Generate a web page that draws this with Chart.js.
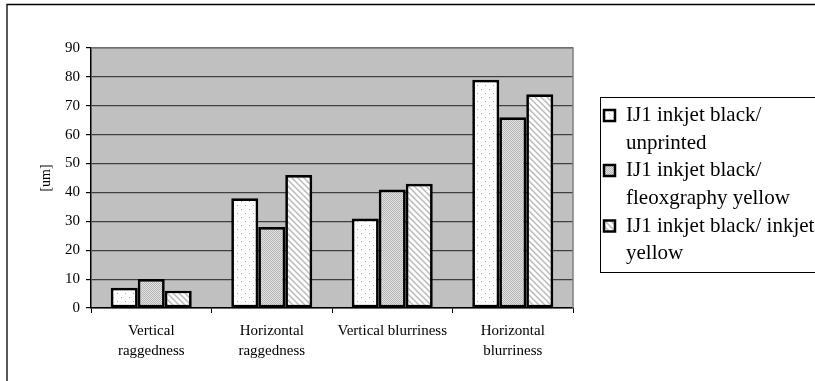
<!DOCTYPE html>
<html>
<head>
<meta charset="utf-8">
<script src="https://cdn.jsdelivr.net/npm/chart.js@4.4.0/dist/chart.umd.min.js"></script>
<style>
  html, body { margin: 0; padding: 0; background: #fff; }
  #chart { display: block; }
</style>
</head>
<body>
<canvas id="chart" width="815" height="381"></canvas>
<script>
// data
const categories = [
  ['Vertical', 'raggedness'],
  ['Horizontal', 'raggedness'],
  'Vertical blurriness',
  ['Horizontal', 'blurriness']
];
const seriesNames = [
  ['IJ1 inkjet black/', 'unprinted'],
  ['IJ1 inkjet black/', 'fleoxgraphy yellow'],
  ['IJ1 inkjet black/ inkjet', 'yellow']
];
const unprinted = [7, 38, 31, 79];
const flexoYellow = [10, 28, 41, 66];
const inkjetYellow = [6, 46, 43, 74];
const yTicks = [0, 10, 20, 30, 40, 50, 60, 70, 80, 90];

const FONT = '"Liberation Serif", "Times New Roman", serif';

// fill patterns like the old office chart
function makePattern(size, draw) {
  const c = document.createElement('canvas');
  c.width = size; c.height = size;
  const g = c.getContext('2d');
  draw(g);
  return g.createPattern(c, 'repeat');
}
const dotPattern = makePattern(8, g => {
  g.fillStyle = '#fff'; g.fillRect(0, 0, 8, 8);
  g.fillStyle = '#a8a8a8';
  g.fillRect(1, 1, 1, 1);
  g.fillRect(5, 5, 1, 1);
});
const finePattern = makePattern(2, g => {
  g.fillStyle = '#e4e4e4'; g.fillRect(0, 0, 2, 2);
  g.fillStyle = '#b4b4b4';
  g.fillRect(0, 0, 1, 1);
  g.fillRect(1, 1, 1, 1);
});
const hatchPattern = makePattern(6, g => {
  g.fillStyle = '#fff'; g.fillRect(0, 0, 6, 6);
  g.strokeStyle = '#b8b8b8'; g.lineWidth = 1.4;
  g.beginPath();
  g.moveTo(-1, -1); g.lineTo(7, 7);
  g.moveTo(-4, 2); g.lineTo(4, 10);
  g.moveTo(2, -4); g.lineTo(10, 4);
  g.stroke();
});

// background, frame and legend drawn around the chart
const decor = {
  id: 'decor',
  beforeDraw(chart) {
    const { ctx, chartArea: a } = chart;
    ctx.save();
    ctx.fillStyle = '#fff';
    ctx.fillRect(0, 0, chart.width, chart.height);
    ctx.strokeStyle = '#000'; ctx.lineWidth = 1.3;
    ctx.beginPath();
    ctx.moveTo(7, chart.height); ctx.lineTo(7, 4.5); ctx.lineTo(chart.width, 4.5);
    ctx.stroke();
    ctx.fillStyle = '#c0c0c0';
    ctx.fillRect(a.left, a.top, a.right - a.left, a.bottom - a.top);
    ctx.restore();
  },
  afterDatasetsDraw(chart) {
    const { ctx, chartArea: a } = chart;
    ctx.save();
    ctx.strokeStyle = '#808080'; ctx.lineWidth = 1.5;
    ctx.beginPath();
    ctx.moveTo(a.left, a.top); ctx.lineTo(a.right, a.top); ctx.lineTo(a.right, a.bottom);
    ctx.stroke();
    ctx.restore();
  },
  afterDraw(chart) {
    const { ctx } = chart;
    const bx = 600.5, by = 97.5, bh = 175;
    ctx.save();
    ctx.strokeStyle = '#000'; ctx.lineWidth = 1;
    ctx.strokeRect(bx, by, 300, bh);
    ctx.font = '21px ' + FONT;
    ctx.textBaseline = 'middle';
    const firstLines = [115.5, 170.5, 226];
    chart.data.datasets.forEach((ds, i) => {
      const y = firstLines[i];
      ctx.fillStyle = ds.backgroundColor;
      ctx.fillRect(604, y - 5.5, 11, 11);
      ctx.strokeStyle = '#000'; ctx.lineWidth = 2.5;
      ctx.strokeRect(604, y - 5.5, 11, 11);
      ctx.fillStyle = '#000';
      seriesNames[i].forEach((line, j) => {
        ctx.fillText(line, 626, y + j * 27.7);
      });
    });
    ctx.restore();
  }
};

const barStyle = { borderColor: '#000', borderWidth: 2.7, borderSkipped: false };

new Chart(document.getElementById('chart').getContext('2d'), {
  type: 'bar',
  data: {
    labels: categories,
    datasets: [
      { label: seriesNames[0].join(' '), data: unprinted, backgroundColor: dotPattern, ...barStyle },
      { label: seriesNames[1].join(' '), data: flexoYellow, backgroundColor: finePattern, ...barStyle },
      { label: seriesNames[2].join(' '), data: inkjetYellow, backgroundColor: hatchPattern, ...barStyle }
    ]
  },
  options: {
    responsive: false,
    animation: false,
    devicePixelRatio: 1,
    layout: { padding: { left: 38, top: 48, right: 242, bottom: 10 } },
    datasets: { bar: { categoryPercentage: 0.672, barPercentage: 1 } },
    plugins: { legend: { display: false }, tooltip: { enabled: false } },
    scales: {
      x: {
        grid: { offset: true, drawOnChartArea: false, color: '#000', tickLength: 5 },
        border: { color: '#000', width: 1.5 },
        ticks: { color: '#000', font: { family: FONT, size: 15, lineHeight: 1.33 }, padding: 8, maxRotation: 0, autoSkip: false },
        afterFit(s) { s.height = 63; }
      },
      y: {
        min: 0, max: 90,
        afterBuildTicks(s) { s.ticks = yTicks.map(v => ({ value: v })); },
        grid: { color: '#404040', lineWidth: 1.2, tickLength: 5, tickColor: '#000' },
        border: { color: '#000', width: 1.5 },
        ticks: { color: '#000', font: { family: FONT, size: 15 }, padding: 6 },
        title: { display: true, text: '[um]', color: '#000', font: { family: FONT, size: 14 }, padding: 0 },
        afterFit(s) { s.width = 53; }
      }
    }
  },
  plugins: [decor]
});
</script>
</body>
</html>
